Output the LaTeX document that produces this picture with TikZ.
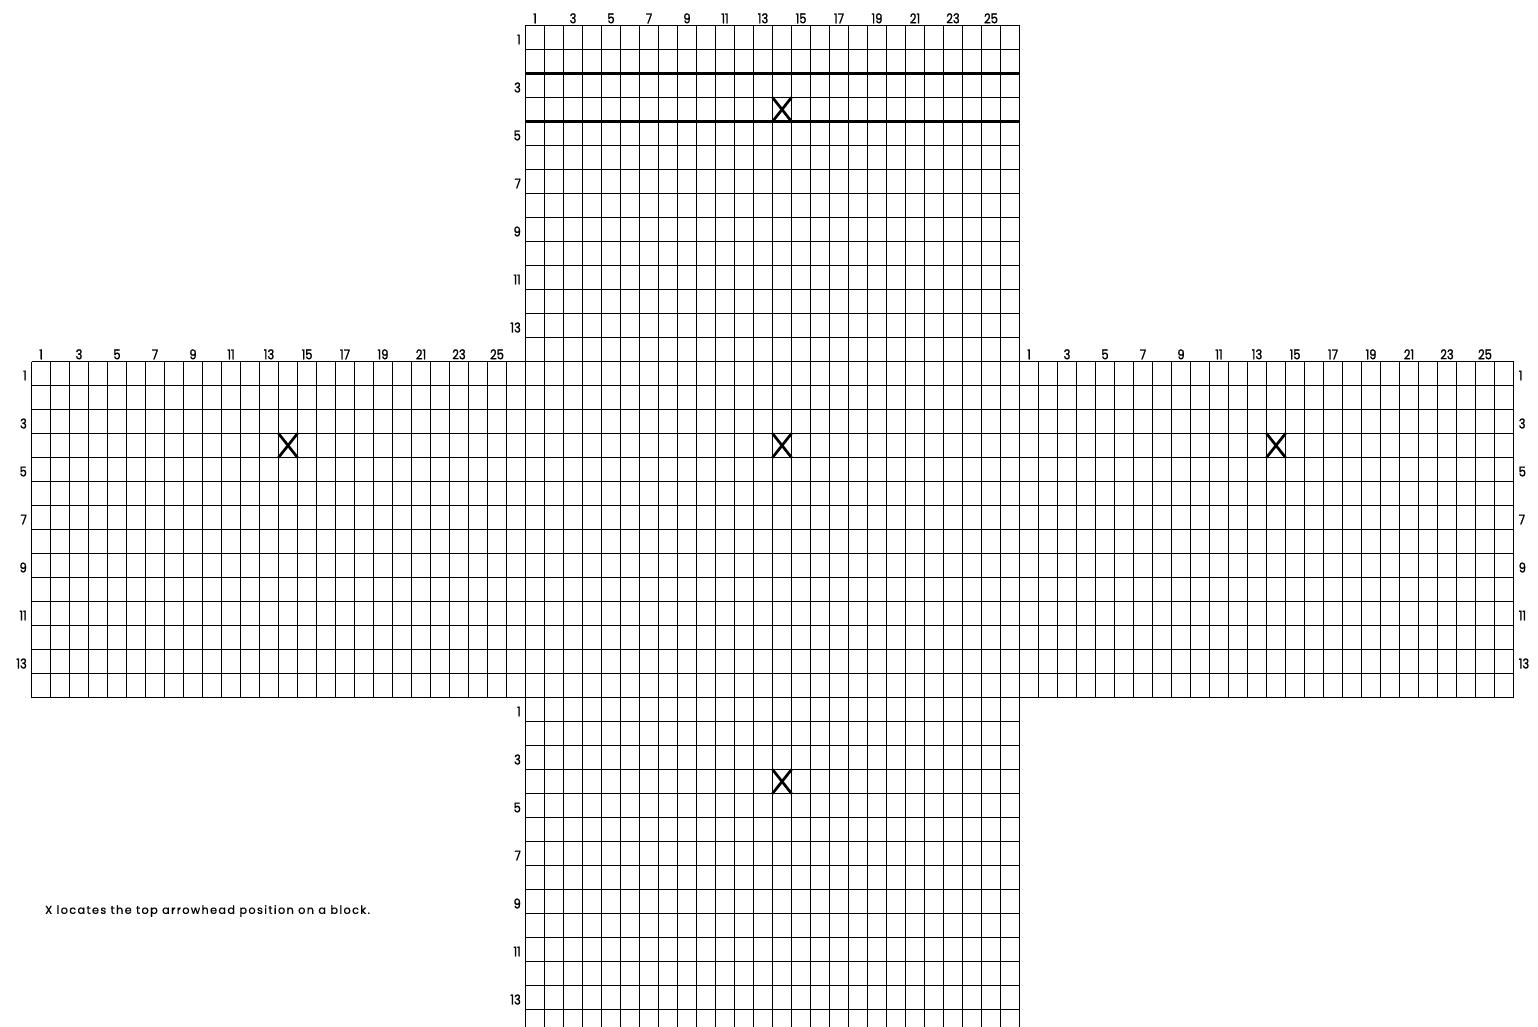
\documentclass[tikz,border=0pt]{standalone}
\usepackage{fontspec}
\setmainfont{Poppins}
\newfontfamily\labfont[FakeStretch=0.85, FakeBold=1.4]{Poppins}
\newfontfamily\capfont[LetterSpace=12, FakeBold=0.6]{Poppins}
\newcommand{\cw}{19}
\newcommand{\rh}{24}
\tikzset{
  gl/.style={line width=1.4pt, black},
  hl/.style={line width=2.4pt, black},
  xline/.style={line width=2.7pt, black},
  labtxt/.style={font=\labfont\fontsize{13.5}{13.5}\selectfont, inner sep=0pt},
  collab/.style={labtxt, anchor=south},
  rowlabL/.style={labtxt, anchor=east},
  rowlabR/.style={labtxt, anchor=west},
  captxt/.style={font=\capfont\fontsize{11.3}{11.3}\selectfont, inner sep=0pt, anchor=west}
}
\newcommand{\gridblock}[2]{%
  \foreach \i in {0,...,26} \draw[gl] ({#1+\i*\cw},{#2}) -- ({#1+\i*\cw},{#2+14*\rh});
  \foreach \j in {0,...,14} \draw[gl] ({#1},{#2+\j*\rh}) -- ({#1+26*\cw},{#2+\j*\rh});
}
\newcommand{\collabels}[3]{%
  \foreach \k in {1,3,...,25} \node[collab] (#3c\k) at ({#1+(\k-0.5)*\cw},{#2-2}) {\k};
}
\newcommand{\rowlabelsL}[3]{%
  \foreach \r in {1,3,...,13} \node[rowlabL] (#3r\r) at ({#1-4.5},{#2+(\r-0.5)*\rh+2}) {\r};
}
\newcommand{\rowlabelsR}[3]{%
  \foreach \r in {1,3,...,13} \node[rowlabR] (#3r\r) at ({#1+26*\cw+5},{#2+(\r-0.5)*\rh+2}) {\r};
}
\newcommand{\blockX}[2]{%
  \draw[xline] ({#1+13*\cw},{#2+3*\rh}) -- ({#1+14*\cw},{#2+4*\rh});
  \draw[xline] ({#1+14*\cw},{#2+3*\rh}) -- ({#1+13*\cw},{#2+4*\rh});
}
\begin{document}
\begin{tikzpicture}[x=1pt,y=-1pt]
\useasboundingbox (0,0) rectangle (1538,1027);
\clip (0,0) rectangle (1538,1027);
\fill[white] (0,0) rectangle (1538,1027);
% blocks
\gridblock{525.5}{25.5}
\gridblock{31.5}{361.5}
\gridblock{525.5}{361.5}
\gridblock{1019.5}{361.5}
\gridblock{525.5}{697.5}
% emphasised rows 3-4 of the top block
\draw[hl] (525.5,{25.5+2*\rh}) -- ({525.5+26*\cw},{25.5+2*\rh});
\draw[line width=1.9pt] (525.5,{25.5+3*\rh}) -- ({525.5+26*\cw},{25.5+3*\rh});
\draw[hl] (525.5,{25.5+4*\rh}) -- ({525.5+26*\cw},{25.5+4*\rh});
% labels
\collabels{525.5}{25.5}{t}
\rowlabelsL{525.5}{25.5}{t}
\collabels{31.5}{361.5}{l}
\rowlabelsL{31.5}{361.5}{l}
\collabels{1019.5}{361.5}{r}
\rowlabelsR{1019.5}{361.5}{r}
\rowlabelsL{525.5}{697.5}{b}
% X marks
\blockX{525.5}{25.5}
\blockX{31.5}{361.5}
\blockX{525.5}{361.5}
\blockX{1019.5}{361.5}
\blockX{525.5}{697.5}
% caption
\node[captxt] (caption) at (45,911) {X locates the top arrowhead position on a block.};
\end{tikzpicture}
\end{document}
